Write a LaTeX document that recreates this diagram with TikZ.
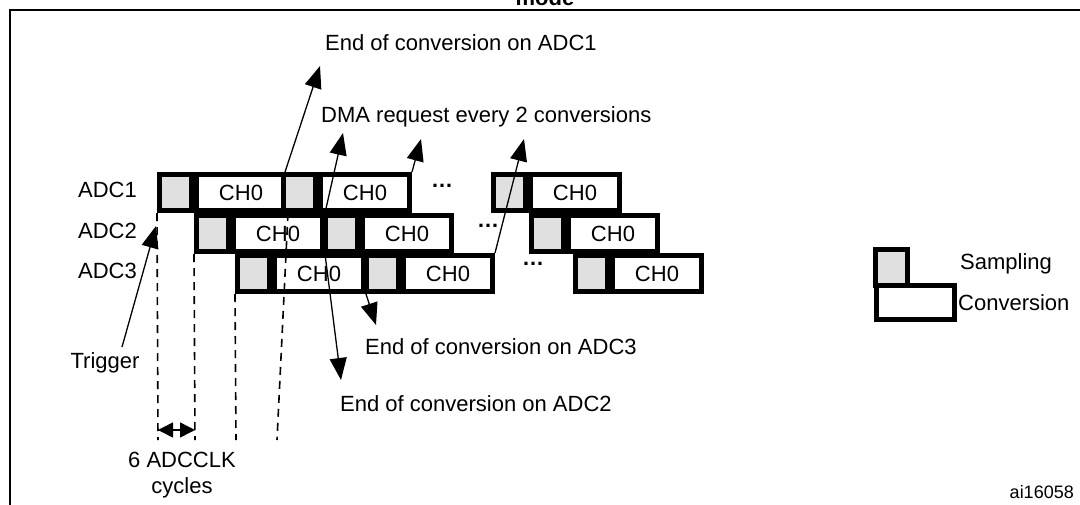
\documentclass[tikz,border=0pt]{standalone}
\usepackage{fontspec}
\setmainfont{Liberation Sans}
\usetikzlibrary{arrows.meta,positioning}
\tikzset{
  samp/.style={draw, line width=5pt, fill=black!12, minimum width=32pt, minimum height=36pt, inner sep=0pt, anchor=north west},
  conv/.style={draw, line width=5pt, fill=white, minimum width=89pt, minimum height=36pt, inner sep=0pt, anchor=west},
  lbl/.style={font=\fontsize{22}{26}\selectfont, inner sep=0pt},
  tip/.style={line width=1.3pt, -{Triangle[length=22pt,width=17pt]}},
  grid/.style={line width=1.6pt, dash pattern=on 8pt off 6pt}
}
\begin{document}
\begin{tikzpicture}[x=1pt, y=-1pt]
        \useasboundingbox (0,0) rectangle (1080,504);
        \draw[line width=2pt] (10,10) rectangle (1090,515);
        \node[lbl, anchor=base, font=\fontsize{22}{26}\selectfont\bfseries] (title) at (545,5) {mode};
        % sample/conversion slots
        \foreach \r/\y/\xa/\xb/\xc in {1/172/157/281/491, 2/213/194/323/529, 3/253/235/364/573} {
          \foreach \k/\x in {1/\xa, 2/\xb, 3/\xc} {
            \node[samp] (s\r\k) at (\x,\y) {};
            \node[conv, lbl] (c\r\k) at (s\r\k.east) {CH0};
          }
          \node[lbl, anchor=east] (adc\r) at (137,\y+18) {ADC\r};
        }
        \node[lbl, font=\fontsize{22}{26}\selectfont\bfseries] (dots1) at (442,186) {\dots};
        \node[lbl, font=\fontsize{22}{26}\selectfont\bfseries] (dots2) at (488,226) {\dots};
        \node[lbl, font=\fontsize{22}{26}\selectfont\bfseries] (dots3) at (533,264) {\dots};
        % clock grid
        \coordinate (g1) at (158,440);
        \coordinate (g2) at (195,440);
        \coordinate (g3) at (236,440);
        \coordinate (g4) at (277,440);
        \draw[grid] (s11.south west) -- (g1);
        \draw[grid] (s21.south west) -- (g2);
        \draw[grid] (s31.south west) -- (g3);
        \draw[grid] (c11.south east) -- (g4);
        \coordinate (ca) at (158,430);
        \coordinate (cb) at (195,430);
        \draw[line width=1.5pt, {Triangle[length=15pt,width=15pt]}-{Triangle[length=15pt,width=15pt]}] (ca) -- (cb);
        \node[lbl, align=center] (cyc) at (182,475) {6 ADCCLK\\cycles};
        % trigger
        \node[lbl] (trig) at (105,363) {Trigger};
        \coordinate (trigtip) at (156,226);
        \draw[tip] (122,347) -- (trigtip);
        % end of conversion / DMA
        \node[lbl, anchor=west] (eoc1) at (325,43) {End of conversion on ADC1};
        \node[lbl, anchor=west] (dma) at (321,117) {DMA request every 2 conversions};
        \node[lbl, anchor=west] (eoc3) at (365,347) {End of conversion on ADC3};
        \node[lbl, anchor=west] (eoc2) at (340,404) {End of conversion on ADC2};
        \coordinate (t1) at (320,66);
        \coordinate (t2) at (343,133);
        \coordinate (t3) at (421,139);
        \coordinate (t4) at (524,139);
        \coordinate (t5) at (376,325);
        \coordinate (t6) at (341,380);
        \draw[tip] ([xshift=-3pt]c11.north east) -- (t1);
        \draw[tip] (c21.north east) -- (t2);
        \draw[tip] (c12.north east) -- (t3);
        \draw[tip] (c32.north east) -- (t4);
        \draw[tip] (c31.south east) -- (t5);
        \draw[tip] (c21.south east) -- (t6);
        % legend
        \node[samp] (legs) at (873,247) {};
        \node[samp, fill=white, minimum width=78pt, minimum height=34pt] (legc) at (874,283) {};
        \node[lbl, anchor=west] (legst) at (960,264) {Sampling};
        \node[lbl, anchor=west] (legct) at (958,303) {Conversion};
        \node[lbl, anchor=base east, font=\fontsize{18}{20}\selectfont] (ref) at (1074,498) {ai16058};
\end{tikzpicture}
\end{document}
